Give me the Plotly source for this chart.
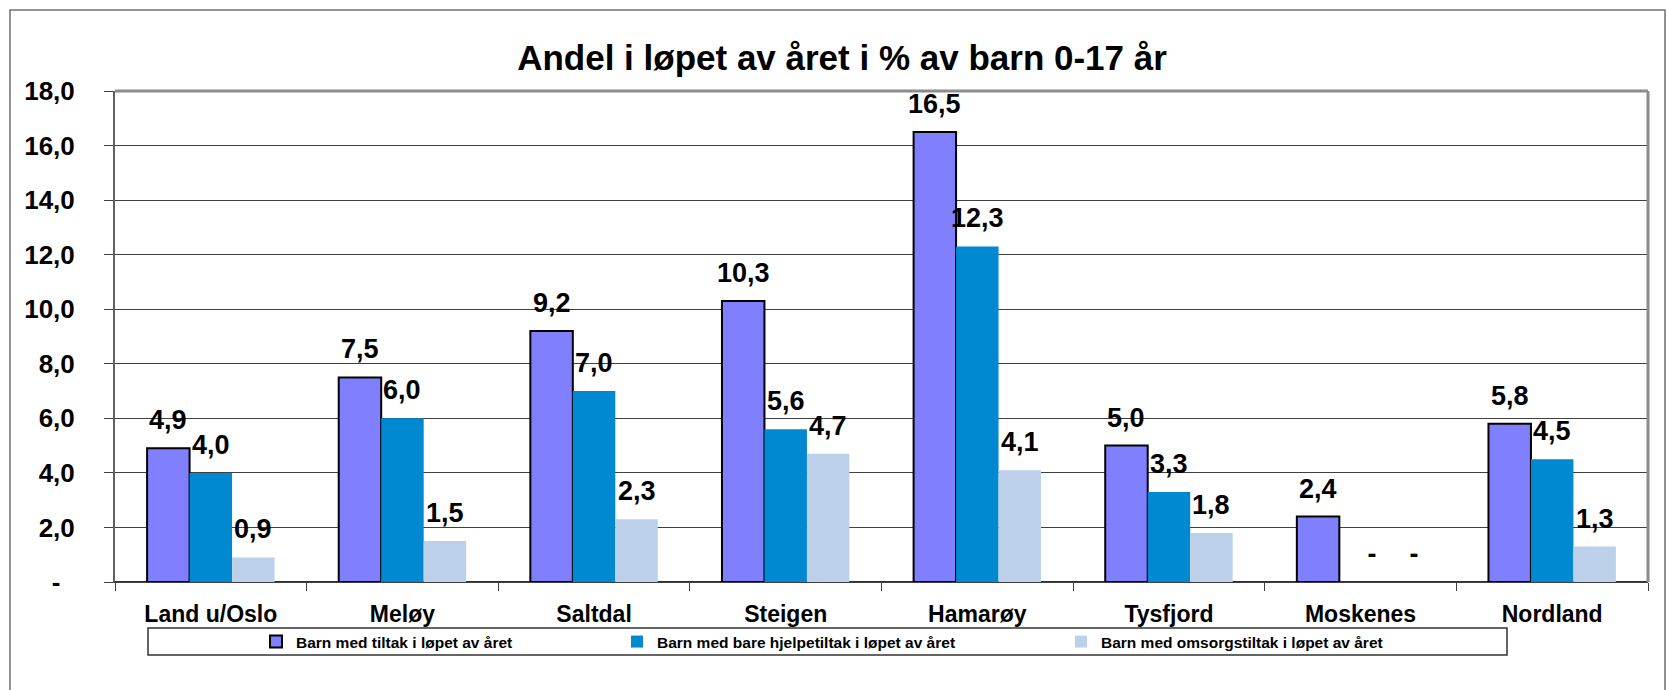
import plotly.graph_objects as go

categories = ["Land u/Oslo", "Meløy", "Saltdal", "Steigen", "Hamarøy", "Tysfjord", "Moskenes", "Nordland"]
tiltak = [4.9, 7.5, 9.2, 10.3, 16.5, 5.0, 2.4, 5.8]
hjelpetiltak = [4.0, 6.0, 7.0, 5.6, 12.3, 3.3, 0.0, 4.5]
omsorgstiltak = [0.9, 1.5, 2.3, 4.7, 4.1, 1.8, 0.0, 1.3]
series_names = [
    "Barn med tiltak i løpet av året",
    "Barn med bare hjelpetiltak i løpet av året",
    "Barn med omsorgstiltak i løpet av året",
]
y_tickvals = [0, 2, 4, 6, 8, 10, 12, 14, 16, 18]
y_ticktext = ["-\u00a0\u00a0", "2,0", "4,0", "6,0", "8,0", "10,0", "12,0", "14,0", "16,0", "18,0"]
title_text = "Andel i løpet av året i % av barn 0-17 år"

FONT = "Liberation Sans, Arial, sans-serif"
colors = ["#8080FF", "#0088D0", "#BCD0EA"]
line_w = [2, 0, 0]
legend_ids = ["legend", "legend2", "legend3"]

def fmt(v):
    return "\u00a0\u00a0\u00a0-" if v == 0 else f"{v:.1f}".replace(".", ",")

fig = go.Figure()
all_series = [tiltak, hjelpetiltak, omsorgstiltak]
for vals, name, col, lw, lg in zip(all_series, series_names, colors, line_w, legend_ids):
    fig.add_trace(go.Bar(
        x=categories, y=vals, name=name, legend=lg,
        marker=dict(color=col, line=dict(color="black", width=lw)),
        hoverinfo="skip",
    ))

# data labels
bar_px = 42.5
offsets = [-bar_px, 0, bar_px]
annotations = []
for vals, off in zip(all_series, offsets):
    for c, v in zip(categories, vals):
        annotations.append(dict(
            x=c, y=v, xref="x", yref="y", text=fmt(v), showarrow=False,
            xshift=off, yshift=11, yanchor="bottom", xanchor="center",
            font=dict(family=FONT, size=27, color="black", weight="bold"),
        ))

# plot area geometry (pixels)
L, R, T, B = 115, 19, 91, 108
W, H = 1667, 690
pw, ph = W - L - R, H - T - B
def px_x(p):
    return (p - L) / pw
def px_y(p):
    return (H - B - p) / ph

shapes = [
    # outer chart frame
    dict(type="rect", xref="paper", yref="paper",
         x0=px_x(10), x1=px_x(1665), y0=px_y(700), y1=px_y(10),
         line=dict(color="#6f6f6f", width=1.5), layer="below"),
    # top and right plot border
    dict(type="line", xref="paper", yref="paper", x0=0, x1=1, y0=1, y1=1,
         line=dict(color="#8c8c8c", width=3)),
    dict(type="line", xref="paper", yref="paper", x0=1, x1=1, y0=0, y1=1,
         line=dict(color="#8c8c8c", width=3)),
    # legend box
    dict(type="rect", xref="paper", yref="paper",
         x0=px_x(148), x1=px_x(1507), y0=px_y(655), y1=px_y(628),
         line=dict(color="#333333", width=1.5)),
]

leg_common = dict(orientation="h", yanchor="middle", xanchor="left",
                  bgcolor="rgba(0,0,0,0)", borderwidth=0, itemwidth=30,
                  font=dict(family=FONT, size=15.5, color="black", weight="bold"))
leg_y = px_y(642)

fig.update_layout(
    width=W, height=H,
    margin=dict(l=L, r=R, t=T, b=B),
    paper_bgcolor="white", plot_bgcolor="white",
    barmode="group", bargap=0.335, bargroupgap=0,
    title=dict(text=title_text, x=842 / W, xanchor="center",
               y=1 - 58 / H, yanchor="middle", yref="container",
               font=dict(family=FONT, size=35, color="black", weight="bold")),
    xaxis=dict(
        showgrid=False, showline=True, linecolor="#404040", linewidth=1,
        ticks="outside", tickson="boundaries", ticklen=8, tickcolor="#404040",
        tickwidth=1, ticklabelstandoff=11,
        tickfont=dict(family=FONT, size=23, color="black", weight="bold"),
    ),
    yaxis=dict(
        range=[0, 18], tickvals=y_tickvals, ticktext=y_ticktext,
        showgrid=True, gridcolor="#404040", gridwidth=1,
        zeroline=True, zerolinecolor="#303030", zerolinewidth=2,
        showline=True, linecolor="#606060", linewidth=2,
        ticks="outside", ticklen=9, tickcolor="#404040", tickwidth=1,
        ticklabelstandoff=24,
        tickfont=dict(family=FONT, size=26, color="black", weight="bold"),
    ),
    legend=dict(x=px_x(256), y=leg_y, **leg_common),
    legend2=dict(x=px_x(617), y=leg_y, **leg_common),
    legend3=dict(x=px_x(1061), y=leg_y, **leg_common),
    annotations=annotations,
    shapes=shapes,
    showlegend=True,
)

fig.write_html("out.html", config={"displayModeBar": False},
               post_script="document.body.style.margin='0px';")
